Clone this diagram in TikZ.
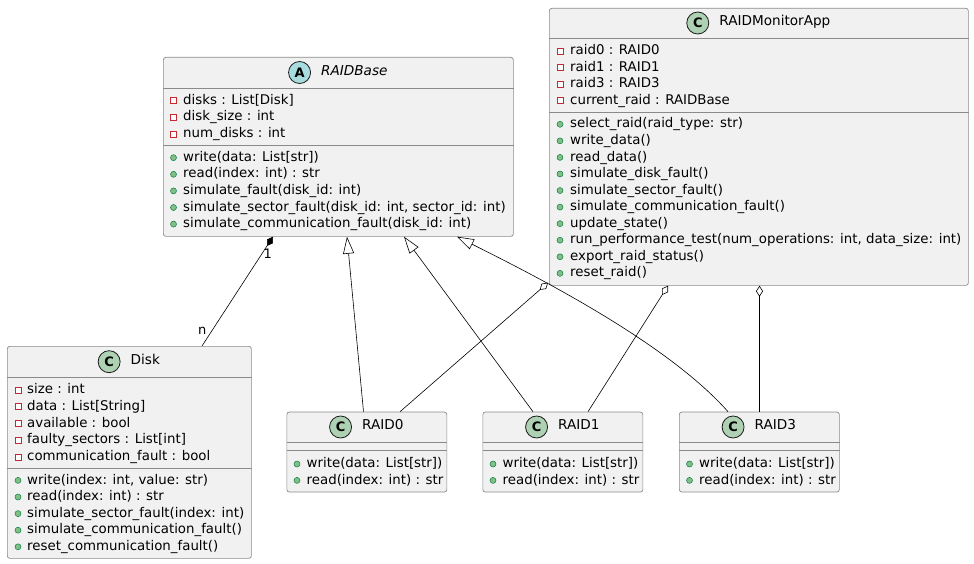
\documentclass[tikz,border=0pt]{standalone}
\usepackage{fontspec}
\setmainfont{DejaVu Sans}
\usetikzlibrary{arrows.meta, positioning, calc}

\definecolor{boxfill}{HTML}{F1F1F1}
\definecolor{boxline}{HTML}{8A8A8A}
\definecolor{classicon}{HTML}{ADD1B2}
\definecolor{abstracticon}{HTML}{A9DCDF}
\definecolor{privred}{HTML}{C82930}
\definecolor{pubgreen}{HTML}{84BE84}
\definecolor{publine}{HTML}{038048}

\tikzset{
  umlbox/.style={draw=boxline, fill=boxfill, rounded corners=2.5pt, anchor=north west, inner sep=0pt, line width=0.7pt},
  sepline/.style={draw=boxline, line width=0.7pt},
  ctitle/.style={anchor=mid, inner sep=0pt, font=\fontsize{13.6}{16}\selectfont},
  cicon/.style={circle, draw=black!90, fill=classicon, minimum size=22pt, inner sep=0pt, line width=0.8pt, font=\bfseries\fontsize{13}{13}\selectfont},
  aicon/.style={cicon, fill=abstracticon},
  member/.style={anchor=base west, inner sep=0pt, font=\fontsize{13.35}{16}\selectfont},
  privmark/.style={draw=privred, fill=white, minimum size=6pt, inner sep=0pt, line width=0.6pt},
  pubmark/.style={circle, draw=publine, fill=pubgreen, minimum size=6pt, inner sep=0pt, line width=0.5pt},
  mult/.style={inner sep=0pt, font=\fontsize{13}{13}\selectfont},
  extends/.style={-{Triangle[open, fill=white, length=17pt, width=11pt]}, line width=0.6pt},
  comp/.style={-{Diamond[length=11pt, width=7pt]}, line width=0.6pt},
  aggr/.style={-{Diamond[open, fill=white, length=11pt, width=7pt]}, line width=0.6pt},
}

\begin{document}
\begin{tikzpicture}[x=1pt, y=-1pt]
  \useasboundingbox (0,0) rectangle (974,564);

  % RAIDBase (abstract)
  \node[umlbox, minimum width=350pt, minimum height=179pt] (base) at (163,57) {};
  \node[ctitle] (basetitle) at ($(base.north)+(16,15.5)$) {\itshape RAIDBase};
  \node[aicon, left=10pt of basetitle.mid west] (baseicon) {A};
  \draw[sepline] ($(base.north west)+(0,31)$) -- ($(base.north east)+(0,31)$);
  \draw[sepline] ($(base.north west)+(0,88)$) -- ($(base.north east)+(0,88)$);
  \foreach \m [count=\i] in {disks : List[Disk], disk\_size : int, num\_disks : int} {
    \node[privmark] (base-pm\i) at ($(base.north west)+(10.5,31+12.7+16.6*\i-16.6)$) {};
    \node[member] (base-a\i) at ($(base.north west)+(20,31+16.3+16.6*\i-16.6)$) {\m};
  }
  \foreach \m [count=\i] in {write(data: List[str]), read(index: int) : str, simulate\_fault(disk\_id: int),
      {simulate\_sector\_fault(disk\_id: int, sector\_id: int)}, simulate\_communication\_fault(disk\_id: int)} {
    \node[pubmark] (base-gm\i) at ($(base.north west)+(10.5,88+12.7+16.6*\i-16.6)$) {};
    \node[member] (base-o\i) at ($(base.north west)+(20,88+16.3+16.6*\i-16.6)$) {\m};
  }

  % RAIDMonitorApp
  \node[umlbox, minimum width=419pt, minimum height=277pt] (app) at (549,8) {};
  \node[ctitle] (apptitle) at ($(app.north)+(16,15)$) {RAIDMonitorApp};
  \node[cicon, left=10pt of apptitle.mid west] (appicon) {C};
  \draw[sepline] ($(app.north west)+(0,30)$) -- ($(app.north east)+(0,30)$);
  \draw[sepline] ($(app.north west)+(0,104)$) -- ($(app.north east)+(0,104)$);
  \foreach \m [count=\i] in {raid0 : RAID0, raid1 : RAID1, raid3 : RAID3, current\_raid : RAIDBase} {
    \node[privmark] (app-pm\i) at ($(app.north west)+(11,30+13+16.6*\i-16.6)$) {};
    \node[member] (app-a\i) at ($(app.north west)+(21,30+16.6+16.6*\i-16.6)$) {\m};
  }
  \foreach \m [count=\i] in {select\_raid(raid\_type: str), write\_data(), read\_data(), simulate\_disk\_fault(),
      simulate\_sector\_fault(), simulate\_communication\_fault(), update\_state(),
      {run\_performance\_test(num\_operations: int, data\_size: int)}, export\_raid\_status(), reset\_raid()} {
    \node[pubmark] (app-gm\i) at ($(app.north west)+(11,104+12.3+16.56*\i-16.56)$) {};
    \node[member] (app-o\i) at ($(app.north west)+(21,104+15.9+16.56*\i-16.56)$) {\m};
  }

  % Disk
  \node[umlbox, minimum width=244pt, minimum height=212pt] (disk) at (7,346) {};
  \node[ctitle] (disktitle) at ($(disk.north)+(16,15.7)$) {Disk};
  \node[cicon, left=10pt of disktitle.mid west] (diskicon) {C};
  \draw[sepline] ($(disk.north west)+(0,31)$) -- ($(disk.north east)+(0,31)$);
  \draw[sepline] ($(disk.north west)+(0,122)$) -- ($(disk.north east)+(0,122)$);
  \foreach \m [count=\i] in {size : int, data : List[String], available : bool, faulty\_sectors : List[int], communication\_fault : bool} {
    \node[privmark] (disk-pm\i) at ($(disk.north west)+(11,31+13+16.7*\i-16.7)$) {};
    \node[member] (disk-a\i) at ($(disk.north west)+(20,31+16.6+16.7*\i-16.7)$) {\m};
  }
  \foreach \m [count=\i] in {{write(index: int, value: str)}, read(index: int) : str, simulate\_sector\_fault(index: int),
      simulate\_communication\_fault(), reset\_communication\_fault()} {
    \node[pubmark] (disk-gm\i) at ($(disk.north west)+(11,122+12.4+16.6*\i-16.6)$) {};
    \node[member] (disk-o\i) at ($(disk.north west)+(20,122+16+16.6*\i-16.6)$) {\m};
  }

  % RAID0, RAID1, RAID3
  \foreach \r/\x in {raid0/286.5, raid1/482.5, raid3/679} {
    \node[umlbox, minimum width=160pt, minimum height=80pt] (\r) at (\x,411.7) {};
  }
  \node[ctitle] (raid0title) at ($(raid0.north)+(16,15.3)$) {RAID0};
  \node[cicon, left=10pt of raid0title.mid west] (raid0icon) {C};
  \node[ctitle] (raid1title) at ($(raid1.north)+(16,15.3)$) {RAID1};
  \node[cicon, left=10pt of raid1title.mid west] (raid1icon) {C};
  \node[ctitle] (raid3title) at ($(raid3.north)+(16,15.3)$) {RAID3};
  \node[cicon, left=10pt of raid3title.mid west] (raid3icon) {C};
  \foreach \r in {raid0, raid1, raid3} {
    \draw[sepline] ($(\r.north west)+(0,31)$) -- ($(\r.north east)+(0,31)$);
    \draw[sepline] ($(\r.north west)+(0,39)$) -- ($(\r.north east)+(0,39)$);
    \foreach \m [count=\i] in {write(data: List[str]), read(index: int) : str} {
      \node[pubmark] (\r-gm\i) at ($(\r.north west)+(10.5,39+13.3+16.4*\i-16.4)$) {};
      \node[member] (\r-o\i) at ($(\r.north west)+(20,39+16.9+16.4*\i-16.4)$) {\m};
    }
  }

  % connectors
  \draw[comp] ($(disk.north west)+(195,0)$) -- ($(base.south west)+(110,0)$);
  \node[mult] (comp-n) at ($(disk.north west)+(195.3,-15.3)$) {n};
  \node[mult] (comp-1) at ($(base.south west)+(104.7,17.3)$) {1};

  \draw[extends] ($(raid0.north west)+(77,0)$) -- ($(base.south west)+(184,0)$);
  \draw[extends] ($(raid1.north west)+(50.5,0)$) -- ($(base.south west)+(241,0)$);
  \draw[extends] ($(raid3.north west)+(49,0)$) .. controls +(-61,-69) and +(80,40) .. ($(base.south west)+(294,0)$);

  \draw[aggr] ($(raid0.north west)+(113.5,0)$) -- ($(app.south west)+(-1,-3)$);
  \draw[aggr] ($(raid1.north west)+(105.5,0)$) -- ($(app.south west)+(119,0)$);
  \draw[aggr] ($(raid3.north west)+(80.5,0)$) -- ($(app.south west)+(210.5,0)$);
\end{tikzpicture}
\end{document}
